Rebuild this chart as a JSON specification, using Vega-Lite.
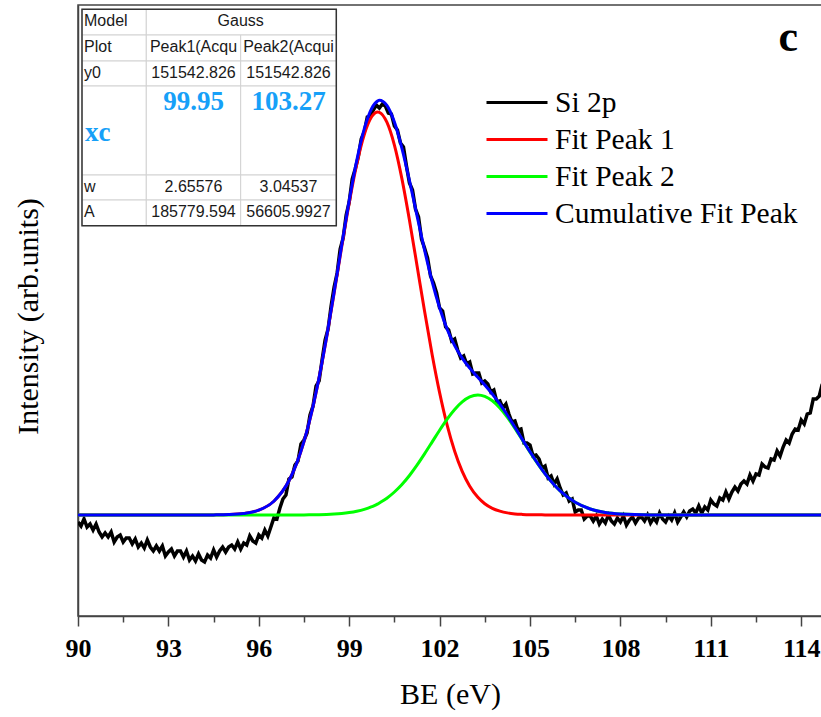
{
  "$schema": "https://vega.github.io/schema/vega-lite/v6.json",
  "width": 744,
  "height": 611,
  "autosize": {"type": "none"},
  "padding": {"left": 78, "top": 5, "right": 0, "bottom": 101},
  "background": "white",
  "config": {
    "view": {"stroke": "#444", "strokeWidth": 1.5},
    "axis": {"domainColor": "#444", "domainWidth": 1.5, "tickColor": "#444", "tickWidth": 1.5, "grid": false}
  },
  "datasets": {
    "si2p": [
      {"BE":90.0,"Si 2p":-7},{"BE":90.1,"Si 2p":-11},{"BE":90.2,"Si 2p":-4},{"BE":90.3,"Si 2p":-12},{"BE":90.4,"Si 2p":-9},{"BE":90.5,"Si 2p":-15},{"BE":90.6,"Si 2p":-9},{"BE":90.7,"Si 2p":-17},{"BE":90.8,"Si 2p":-22},{"BE":90.9,"Si 2p":-18},
      {"BE":91.0,"Si 2p":-22},{"BE":91.1,"Si 2p":-17},{"BE":91.2,"Si 2p":-27},{"BE":91.3,"Si 2p":-22},{"BE":91.4,"Si 2p":-20},{"BE":91.5,"Si 2p":-27},{"BE":91.6,"Si 2p":-23},{"BE":91.7,"Si 2p":-23},{"BE":91.8,"Si 2p":-29},{"BE":91.9,"Si 2p":-24},
      {"BE":92.0,"Si 2p":-32},{"BE":92.1,"Si 2p":-28},{"BE":92.2,"Si 2p":-33},{"BE":92.3,"Si 2p":-25},{"BE":92.4,"Si 2p":-32},{"BE":92.5,"Si 2p":-36},{"BE":92.6,"Si 2p":-31},{"BE":92.7,"Si 2p":-36},{"BE":92.8,"Si 2p":-31},{"BE":92.9,"Si 2p":-41},
      {"BE":93.0,"Si 2p":-37},{"BE":93.1,"Si 2p":-34},{"BE":93.2,"Si 2p":-41},{"BE":93.3,"Si 2p":-36},{"BE":93.4,"Si 2p":-36},{"BE":93.5,"Si 2p":-42},{"BE":93.6,"Si 2p":-36},{"BE":93.7,"Si 2p":-45},{"BE":93.8,"Si 2p":-41},{"BE":93.9,"Si 2p":-46},
      {"BE":94.0,"Si 2p":-39},{"BE":94.1,"Si 2p":-45},{"BE":94.2,"Si 2p":-47},{"BE":94.3,"Si 2p":-40},{"BE":94.4,"Si 2p":-43},{"BE":94.5,"Si 2p":-35},{"BE":94.6,"Si 2p":-42},{"BE":94.7,"Si 2p":-36},{"BE":94.8,"Si 2p":-32},{"BE":94.9,"Si 2p":-37},
      {"BE":95.0,"Si 2p":-32},{"BE":95.1,"Si 2p":-30},{"BE":95.2,"Si 2p":-34},{"BE":95.3,"Si 2p":-27},{"BE":95.4,"Si 2p":-34},{"BE":95.5,"Si 2p":-28},{"BE":95.6,"Si 2p":-30},{"BE":95.7,"Si 2p":-21},{"BE":95.8,"Si 2p":-26},{"BE":95.9,"Si 2p":-28},
      {"BE":96.0,"Si 2p":-20},{"BE":96.1,"Si 2p":-23},{"BE":96.2,"Si 2p":-15},{"BE":96.3,"Si 2p":-21},{"BE":96.4,"Si 2p":-12},{"BE":96.5,"Si 2p":-3},{"BE":96.6,"Si 2p":-4},{"BE":96.7,"Si 2p":7},{"BE":96.8,"Si 2p":16},{"BE":96.9,"Si 2p":20},
      {"BE":97.0,"Si 2p":36},{"BE":97.1,"Si 2p":38},{"BE":97.2,"Si 2p":50},{"BE":97.3,"Si 2p":54},{"BE":97.4,"Si 2p":71},{"BE":97.5,"Si 2p":75},{"BE":97.6,"Si 2p":82},{"BE":97.7,"Si 2p":100},{"BE":97.8,"Si 2p":109},{"BE":97.9,"Si 2p":129},
      {"BE":98.0,"Si 2p":134},{"BE":98.1,"Si 2p":155},{"BE":98.2,"Si 2p":175},{"BE":98.3,"Si 2p":186},{"BE":98.4,"Si 2p":209},{"BE":98.5,"Si 2p":228},{"BE":98.6,"Si 2p":242},{"BE":98.7,"Si 2p":266},{"BE":98.8,"Si 2p":277},{"BE":98.9,"Si 2p":300},
      {"BE":99.0,"Si 2p":313},{"BE":99.1,"Si 2p":336},{"BE":99.2,"Si 2p":346},{"BE":99.3,"Si 2p":358},{"BE":99.4,"Si 2p":376},{"BE":99.5,"Si 2p":383},{"BE":99.6,"Si 2p":398},{"BE":99.7,"Si 2p":399},{"BE":99.8,"Si 2p":405},{"BE":99.9,"Si 2p":410},
      {"BE":100.0,"Si 2p":407},{"BE":100.1,"Si 2p":411},{"BE":100.2,"Si 2p":409},{"BE":100.3,"Si 2p":402},{"BE":100.4,"Si 2p":401},{"BE":100.5,"Si 2p":389},{"BE":100.6,"Si 2p":385},{"BE":100.7,"Si 2p":372},{"BE":100.8,"Si 2p":368},{"BE":100.9,"Si 2p":349},
      {"BE":101.0,"Si 2p":332},{"BE":101.1,"Si 2p":325},{"BE":101.2,"Si 2p":306},{"BE":101.3,"Si 2p":298},{"BE":101.4,"Si 2p":276},{"BE":101.5,"Si 2p":267},{"BE":101.6,"Si 2p":257},{"BE":101.7,"Si 2p":239},{"BE":101.8,"Si 2p":232},{"BE":101.9,"Si 2p":222},
      {"BE":102.0,"Si 2p":207},{"BE":102.1,"Si 2p":204},{"BE":102.2,"Si 2p":188},{"BE":102.3,"Si 2p":185},{"BE":102.4,"Si 2p":174},{"BE":102.5,"Si 2p":176},{"BE":102.6,"Si 2p":165},{"BE":102.7,"Si 2p":157},{"BE":102.8,"Si 2p":159},{"BE":102.9,"Si 2p":151},
      {"BE":103.0,"Si 2p":153},{"BE":103.1,"Si 2p":141},{"BE":103.2,"Si 2p":142},{"BE":103.3,"Si 2p":142},{"BE":103.4,"Si 2p":132},{"BE":103.5,"Si 2p":134},{"BE":103.6,"Si 2p":131},{"BE":103.7,"Si 2p":123},{"BE":103.8,"Si 2p":125},{"BE":103.9,"Si 2p":113},
      {"BE":104.0,"Si 2p":114},{"BE":104.1,"Si 2p":107},{"BE":104.2,"Si 2p":111},{"BE":104.3,"Si 2p":101},{"BE":104.4,"Si 2p":93},{"BE":104.5,"Si 2p":94},{"BE":104.6,"Si 2p":85},{"BE":104.7,"Si 2p":86},{"BE":104.8,"Si 2p":72},{"BE":104.9,"Si 2p":72},
      {"BE":105.0,"Si 2p":70},{"BE":105.1,"Si 2p":59},{"BE":105.2,"Si 2p":60},{"BE":105.3,"Si 2p":56},{"BE":105.4,"Si 2p":47},{"BE":105.5,"Si 2p":49},{"BE":105.6,"Si 2p":37},{"BE":105.7,"Si 2p":39},{"BE":105.8,"Si 2p":31},{"BE":105.9,"Si 2p":36},
      {"BE":106.0,"Si 2p":27},{"BE":106.1,"Si 2p":20},{"BE":106.2,"Si 2p":22},{"BE":106.3,"Si 2p":14},{"BE":106.4,"Si 2p":16},{"BE":106.5,"Si 2p":3},{"BE":106.6,"Si 2p":5},{"BE":106.7,"Si 2p":5},{"BE":106.8,"Si 2p":-4},{"BE":106.9,"Si 2p":-1},
      {"BE":107.0,"Si 2p":-1},{"BE":107.1,"Si 2p":-6},{"BE":107.2,"Si 2p":-1},{"BE":107.3,"Si 2p":-9},{"BE":107.4,"Si 2p":-4},{"BE":107.5,"Si 2p":-8},{"BE":107.6,"Si 2p":0},{"BE":107.7,"Si 2p":-6},{"BE":107.8,"Si 2p":-9},{"BE":107.9,"Si 2p":-3},
      {"BE":108.0,"Si 2p":-7},{"BE":108.1,"Si 2p":-1},{"BE":108.2,"Si 2p":-10},{"BE":108.3,"Si 2p":-5},{"BE":108.4,"Si 2p":-2},{"BE":108.5,"Si 2p":-8},{"BE":108.6,"Si 2p":-3},{"BE":108.7,"Si 2p":-2},{"BE":108.8,"Si 2p":-6},{"BE":108.9,"Si 2p":0},
      {"BE":109.0,"Si 2p":-8},{"BE":109.1,"Si 2p":-3},{"BE":109.2,"Si 2p":-7},{"BE":109.3,"Si 2p":2},{"BE":109.4,"Si 2p":-4},{"BE":109.5,"Si 2p":-7},{"BE":109.6,"Si 2p":-1},{"BE":109.7,"Si 2p":-5},{"BE":109.8,"Si 2p":2},{"BE":109.9,"Si 2p":-7},
      {"BE":110.0,"Si 2p":-2},{"BE":110.1,"Si 2p":3},{"BE":110.2,"Si 2p":-2},{"BE":110.3,"Si 2p":4},{"BE":110.4,"Si 2p":6},{"BE":110.5,"Si 2p":2},{"BE":110.6,"Si 2p":9},{"BE":110.7,"Si 2p":2},{"BE":110.8,"Si 2p":8},{"BE":110.9,"Si 2p":5},
      {"BE":111.0,"Si 2p":15},{"BE":111.1,"Si 2p":11},{"BE":111.2,"Si 2p":9},{"BE":111.3,"Si 2p":17},{"BE":111.4,"Si 2p":15},{"BE":111.5,"Si 2p":23},{"BE":111.6,"Si 2p":16},{"BE":111.7,"Si 2p":23},{"BE":111.8,"Si 2p":28},{"BE":111.9,"Si 2p":24},
      {"BE":112.0,"Si 2p":31},{"BE":112.1,"Si 2p":34},{"BE":112.2,"Si 2p":31},{"BE":112.3,"Si 2p":40},{"BE":112.4,"Si 2p":34},{"BE":112.5,"Si 2p":41},{"BE":112.6,"Si 2p":40},{"BE":112.7,"Si 2p":51},{"BE":112.8,"Si 2p":48},{"BE":112.9,"Si 2p":47},
      {"BE":113.0,"Si 2p":56},{"BE":113.1,"Si 2p":55},{"BE":113.2,"Si 2p":64},{"BE":113.3,"Si 2p":59},{"BE":113.4,"Si 2p":68},{"BE":113.5,"Si 2p":75},{"BE":113.6,"Si 2p":72},{"BE":113.7,"Si 2p":81},{"BE":113.8,"Si 2p":86},{"BE":113.9,"Si 2p":85},
      {"BE":114.0,"Si 2p":95},{"BE":114.1,"Si 2p":91},{"BE":114.2,"Si 2p":101},{"BE":114.3,"Si 2p":102},{"BE":114.4,"Si 2p":116},{"BE":114.5,"Si 2p":116},{"BE":114.6,"Si 2p":119},{"BE":114.7,"Si 2p":131}
    ],
    "fits": [
      {"BE":90,"Fit Peak 1":0,"Fit Peak 2":0,"Cumulative Fit Peak":0},
      {"BE":93,"Fit Peak 1":0,"Fit Peak 2":0,"Cumulative Fit Peak":0},
      {"BE":94,"Fit Peak 1":0,"Fit Peak 2":0,"Cumulative Fit Peak":0},
      {"BE":94.5,"Fit Peak 1":0.1,"Fit Peak 2":0,"Cumulative Fit Peak":0.1},
      {"BE":95,"Fit Peak 1":0.4,"Fit Peak 2":0,"Cumulative Fit Peak":0.4},
      {"BE":95.5,"Fit Peak 1":1.5,"Fit Peak 2":0,"Cumulative Fit Peak":1.5},
      {"BE":96,"Fit Peak 1":4.8,"Fit Peak 2":0,"Cumulative Fit Peak":4.8},
      {"BE":96.5,"Fit Peak 1":13.8,"Fit Peak 2":0,"Cumulative Fit Peak":13.8},
      {"BE":97,"Fit Peak 1":34.2,"Fit Peak 2":0,"Cumulative Fit Peak":34.2},
      {"BE":97.25,"Fit Peak 1":51.0,"Fit Peak 2":0.1,"Cumulative Fit Peak":51.1},
      {"BE":97.5,"Fit Peak 1":73.5,"Fit Peak 2":0.1,"Cumulative Fit Peak":73.6},
      {"BE":97.75,"Fit Peak 1":102.2,"Fit Peak 2":0.2,"Cumulative Fit Peak":102.4},
      {"BE":98,"Fit Peak 1":137.1,"Fit Peak 2":0.3,"Cumulative Fit Peak":137.4},
      {"BE":98.25,"Fit Peak 1":177.6,"Fit Peak 2":0.5,"Cumulative Fit Peak":178.1},
      {"BE":98.5,"Fit Peak 1":222.0,"Fit Peak 2":0.9,"Cumulative Fit Peak":222.9},
      {"BE":98.75,"Fit Peak 1":267.9,"Fit Peak 2":1.5,"Cumulative Fit Peak":269.4},
      {"BE":99,"Fit Peak 1":312.0,"Fit Peak 2":2.4,"Cumulative Fit Peak":314.4},
      {"BE":99.25,"Fit Peak 1":350.7,"Fit Peak 2":3.7,"Cumulative Fit Peak":354.4},
      {"BE":99.5,"Fit Peak 1":380.5,"Fit Peak 2":5.6,"Cumulative Fit Peak":386.1},
      {"BE":99.75,"Fit Peak 1":398.5,"Fit Peak 2":8.3,"Cumulative Fit Peak":406.8},
      {"BE":99.95,"Fit Peak 1":403.0,"Fit Peak 2":11.1,"Cumulative Fit Peak":414.1},
      {"BE":100,"Fit Peak 1":402.7,"Fit Peak 2":12.0,"Cumulative Fit Peak":414.7},
      {"BE":100.25,"Fit Peak 1":392.8,"Fit Peak 2":16.8,"Cumulative Fit Peak":409.6},
      {"BE":100.5,"Fit Peak 1":369.9,"Fit Peak 2":23.0,"Cumulative Fit Peak":392.9},
      {"BE":100.75,"Fit Peak 1":336.1,"Fit Peak 2":30.5,"Cumulative Fit Peak":366.6},
      {"BE":101,"Fit Peak 1":294.8,"Fit Peak 2":39.5,"Cumulative Fit Peak":334.3},
      {"BE":101.25,"Fit Peak 1":249.6,"Fit Peak 2":49.8,"Cumulative Fit Peak":299.4},
      {"BE":101.5,"Fit Peak 1":203.9,"Fit Peak 2":61.1,"Cumulative Fit Peak":265.0},
      {"BE":101.75,"Fit Peak 1":160.8,"Fit Peak 2":72.9,"Cumulative Fit Peak":233.7},
      {"BE":102,"Fit Peak 1":122.4,"Fit Peak 2":84.8,"Cumulative Fit Peak":207.2},
      {"BE":102.25,"Fit Peak 1":89.9,"Fit Peak 2":95.9,"Cumulative Fit Peak":185.8},
      {"BE":102.5,"Fit Peak 1":63.8,"Fit Peak 2":105.6,"Cumulative Fit Peak":169.4},
      {"BE":102.75,"Fit Peak 1":43.6,"Fit Peak 2":113.2,"Cumulative Fit Peak":156.8},
      {"BE":103,"Fit Peak 1":28.8,"Fit Peak 2":118.1,"Cumulative Fit Peak":146.9},
      {"BE":103.27,"Fit Peak 1":17.7,"Fit Peak 2":120.0,"Cumulative Fit Peak":137.7},
      {"BE":103.5,"Fit Peak 1":11.3,"Fit Peak 2":118.6,"Cumulative Fit Peak":129.9},
      {"BE":103.75,"Fit Peak 1":6.7,"Fit Peak 2":114.2,"Cumulative Fit Peak":120.9},
      {"BE":104,"Fit Peak 1":3.9,"Fit Peak 2":107.0,"Cumulative Fit Peak":110.9},
      {"BE":104.25,"Fit Peak 1":2.1,"Fit Peak 2":97.6,"Cumulative Fit Peak":99.7},
      {"BE":104.5,"Fit Peak 1":1.1,"Fit Peak 2":86.6,"Cumulative Fit Peak":87.7},
      {"BE":104.75,"Fit Peak 1":0.6,"Fit Peak 2":74.8,"Cumulative Fit Peak":75.4},
      {"BE":105,"Fit Peak 1":0.3,"Fit Peak 2":62.9,"Cumulative Fit Peak":63.2},
      {"BE":105.5,"Fit Peak 1":0.1,"Fit Peak 2":41.1,"Cumulative Fit Peak":41.2},
      {"BE":106,"Fit Peak 1":0,"Fit Peak 2":24.1,"Cumulative Fit Peak":24.1},
      {"BE":106.5,"Fit Peak 1":0,"Fit Peak 2":12.7,"Cumulative Fit Peak":12.7},
      {"BE":107,"Fit Peak 1":0,"Fit Peak 2":6.0,"Cumulative Fit Peak":6.0},
      {"BE":107.5,"Fit Peak 1":0,"Fit Peak 2":2.5,"Cumulative Fit Peak":2.5},
      {"BE":108,"Fit Peak 1":0,"Fit Peak 2":1.0,"Cumulative Fit Peak":1.0},
      {"BE":109,"Fit Peak 1":0,"Fit Peak 2":0.1,"Cumulative Fit Peak":0.1},
      {"BE":110,"Fit Peak 1":0,"Fit Peak 2":0,"Cumulative Fit Peak":0},
      {"BE":114.7,"Fit Peak 1":0,"Fit Peak 2":0,"Cumulative Fit Peak":0}
    ],
    "cells": [
      {"c0":0,"c1":1,"r0":0,"r1":1},{"c0":1,"c1":3,"r0":0,"r1":1},
      {"c0":0,"c1":1,"r0":1,"r1":2},{"c0":1,"c1":2,"r0":1,"r1":2},{"c0":2,"c1":3,"r0":1,"r1":2},
      {"c0":0,"c1":1,"r0":2,"r1":3},{"c0":1,"c1":2,"r0":2,"r1":3},{"c0":2,"c1":3,"r0":2,"r1":3},
      {"c0":0,"c1":1,"r0":3,"r1":4},{"c0":1,"c1":2,"r0":3,"r1":4},{"c0":2,"c1":3,"r0":3,"r1":4},
      {"c0":0,"c1":1,"r0":4,"r1":5},{"c0":1,"c1":2,"r0":4,"r1":5},{"c0":2,"c1":3,"r0":4,"r1":5},
      {"c0":0,"c1":1,"r0":5,"r1":6},{"c0":1,"c1":2,"r0":5,"r1":6},{"c0":2,"c1":3,"r0":5,"r1":6}
    ],
    "frame": [{"c0":0,"c1":3,"r0":0,"r1":6}],
    "rowlabels": [
      {"c":0,"r":0.5,"t":"Model"},{"c":0,"r":1.5,"t":"Plot"},{"c":0,"r":2.5,"t":"y0"},{"c":0,"r":4.5,"t":"w"},{"c":0,"r":5.5,"t":"A"}
    ],
    "cellvals": [
      {"c":2,"r":0.5,"t":"Gauss"},
      {"c":1.5,"r":1.5,"t":"Peak1(Acqu"},{"c":2.5,"r":1.5,"t":"Peak2(Acqui"},
      {"c":1.5,"r":2.5,"t":"151542.826"},{"c":2.5,"r":2.5,"t":"151542.826"},
      {"c":1.5,"r":4.5,"t":"2.65576"},{"c":2.5,"r":4.5,"t":"3.04537"},
      {"c":1.5,"r":5.5,"t":"185779.594"},{"c":2.5,"r":5.5,"t":"56605.9927"}
    ],
    "xclabel": [{"c":0,"r":3.5,"t":"xc"}],
    "xcvals": [{"c":1.5,"r":3,"t":"99.95"},{"c":2.5,"r":3,"t":"103.27"}]
  },
  "layer": [
    {
      "encoding": {
        "x": {
          "field": "BE", "type": "quantitative",
          "scale": {"domain": [90, 114.69], "nice": false, "zero": false},
          "axis": {
            "values": [90, 91.5, 93, 94.5, 96, 97.5, 99, 100.5, 102, 103.5, 105, 106.5, 108, 109.5, 111, 112.5, 114],
            "labelExpr": "datum.value % 3 === 0 ? datum.label : ''",
            "tickSize": {"condition": {"test": "datum.value % 3 === 0", "value": 10}, "value": 6},
            "labelFont": "Liberation Serif", "labelFontWeight": "bold", "labelFontSize": 26, "labelColor": "black",
            "labelPadding": 9, "labelFlush": false, "labelOverlap": false,
            "title": "BE (eV)", "titleFont": "Liberation Serif", "titleFontSize": 30, "titleFontWeight": "normal", "titleColor": "black", "titlePadding": 18
          }
        },
        "y": {
          "field": "value", "type": "quantitative",
          "scale": {"domain": [-101, 510], "nice": false, "zero": false},
          "axis": {
            "labels": false, "ticks": false,
            "title": "Intensity (arb.units)", "titleFont": "Liberation Serif", "titleFontSize": 30, "titleFontWeight": "normal", "titleColor": "black", "titlePadding": 35, "titleY": 311
          }
        },
        "color": {
          "field": "key", "type": "nominal",
          "scale": {"domain": ["Si 2p", "Fit Peak 1", "Fit Peak 2", "Cumulative Fit Peak"], "range": ["#000000", "#ff0000", "#00ff00", "#0000ff"]},
          "legend": {
            "orient": "none", "legendX": 407, "legendY": 11, "padding": 0,
            "title": "c", "titleAnchor": "end", "titleFont": "Liberation Serif", "titleFontSize": 44, "titleFontWeight": "bold", "titleColor": "black", "titlePadding": 24, "titleBaseline": "top",
            "symbolType": "stroke", "symbolSize": 3721, "symbolStrokeWidth": 3,
            "labelFont": "Liberation Serif", "labelFontSize": 29.5, "labelColor": "black", "labelOffset": 6, "labelLimit": 400,
            "clipHeight": 37, "rowPadding": 0
          }
        }
      },
      "layer": [
        {"data": {"name": "si2p"}, "transform": [{"fold": ["Si 2p"]}], "mark": {"type": "line", "strokeWidth": 3.5, "clip": true}},
        {"data": {"name": "fits"}, "transform": [{"fold": ["Fit Peak 1"]}], "mark": {"type": "line", "strokeWidth": 3, "interpolate": "monotone", "clip": true}},
        {"data": {"name": "fits"}, "transform": [{"fold": ["Fit Peak 2"]}], "mark": {"type": "line", "strokeWidth": 3, "interpolate": "monotone", "clip": true}},
        {"data": {"name": "fits"}, "transform": [{"fold": ["Cumulative Fit Peak"]}], "mark": {"type": "line", "strokeWidth": 3, "interpolate": "monotone", "clip": true}}
      ]
    },
    {
      "layer": [
        {
          "data": {"name": "cells"},
          "mark": {"type": "rect", "fill": "white", "stroke": "#d2d2d2", "strokeWidth": 1},
          "encoding": {
            "x": {"field": "c0", "type": "quantitative", "scale": {"type": "linear", "domain": [0, 1, 2, 3], "range": [4, 68.3, 162.7, 258.3], "zero": false, "nice": false}, "axis": null},
            "x2": {"field": "c1"},
            "y": {"field": "r0", "type": "quantitative", "scale": {"type": "linear", "domain": [0, 1, 2, 3, 4, 5, 6], "range": [4.3, 30, 56, 81, 170, 195, 220.7], "zero": false, "nice": false}, "axis": null},
            "y2": {"field": "r1"}
          }
        },
        {
          "data": {"name": "frame"},
          "mark": {"type": "rect", "fillOpacity": 0, "stroke": "#333333", "strokeWidth": 1.5},
          "encoding": {
            "x": {"field": "c0", "type": "quantitative", "axis": null},
            "x2": {"field": "c1"},
            "y": {"field": "r0", "type": "quantitative", "axis": null},
            "y2": {"field": "r1"}
          }
        },
        {
          "data": {"name": "rowlabels"},
          "mark": {"type": "text", "align": "left", "baseline": "middle", "dx": 2, "dy": -1, "font": "Liberation Sans", "fontSize": 16, "color": "#1a1a1a"},
          "encoding": {
            "x": {"field": "c", "type": "quantitative", "axis": null},
            "y": {"field": "r", "type": "quantitative", "axis": null},
            "text": {"field": "t"}
          }
        },
        {
          "data": {"name": "cellvals"},
          "mark": {"type": "text", "align": "center", "baseline": "middle", "dy": -1, "font": "Liberation Sans", "fontSize": 16, "color": "#1a1a1a"},
          "encoding": {
            "x": {"field": "c", "type": "quantitative", "axis": null},
            "y": {"field": "r", "type": "quantitative", "axis": null},
            "text": {"field": "t"}
          }
        },
        {
          "data": {"name": "xclabel"},
          "mark": {"type": "text", "align": "left", "baseline": "middle", "dx": 3, "dy": 2, "font": "Liberation Serif", "fontWeight": "bold", "fontSize": 27, "color": "#16a0f8"},
          "encoding": {
            "x": {"field": "c", "type": "quantitative", "axis": null},
            "y": {"field": "r", "type": "quantitative", "axis": null},
            "text": {"field": "t"}
          }
        },
        {
          "data": {"name": "xcvals"},
          "mark": {"type": "text", "align": "center", "baseline": "top", "dy": 3, "font": "Liberation Serif", "fontWeight": "bold", "fontSize": 27, "color": "#16a0f8"},
          "encoding": {
            "x": {"field": "c", "type": "quantitative", "axis": null},
            "y": {"field": "r", "type": "quantitative", "axis": null},
            "text": {"field": "t"}
          }
        }
      ]
    }
  ],
  "resolve": {"scale": {"x": "independent", "y": "independent"}, "axis": {"x": "independent", "y": "independent"}}
}
